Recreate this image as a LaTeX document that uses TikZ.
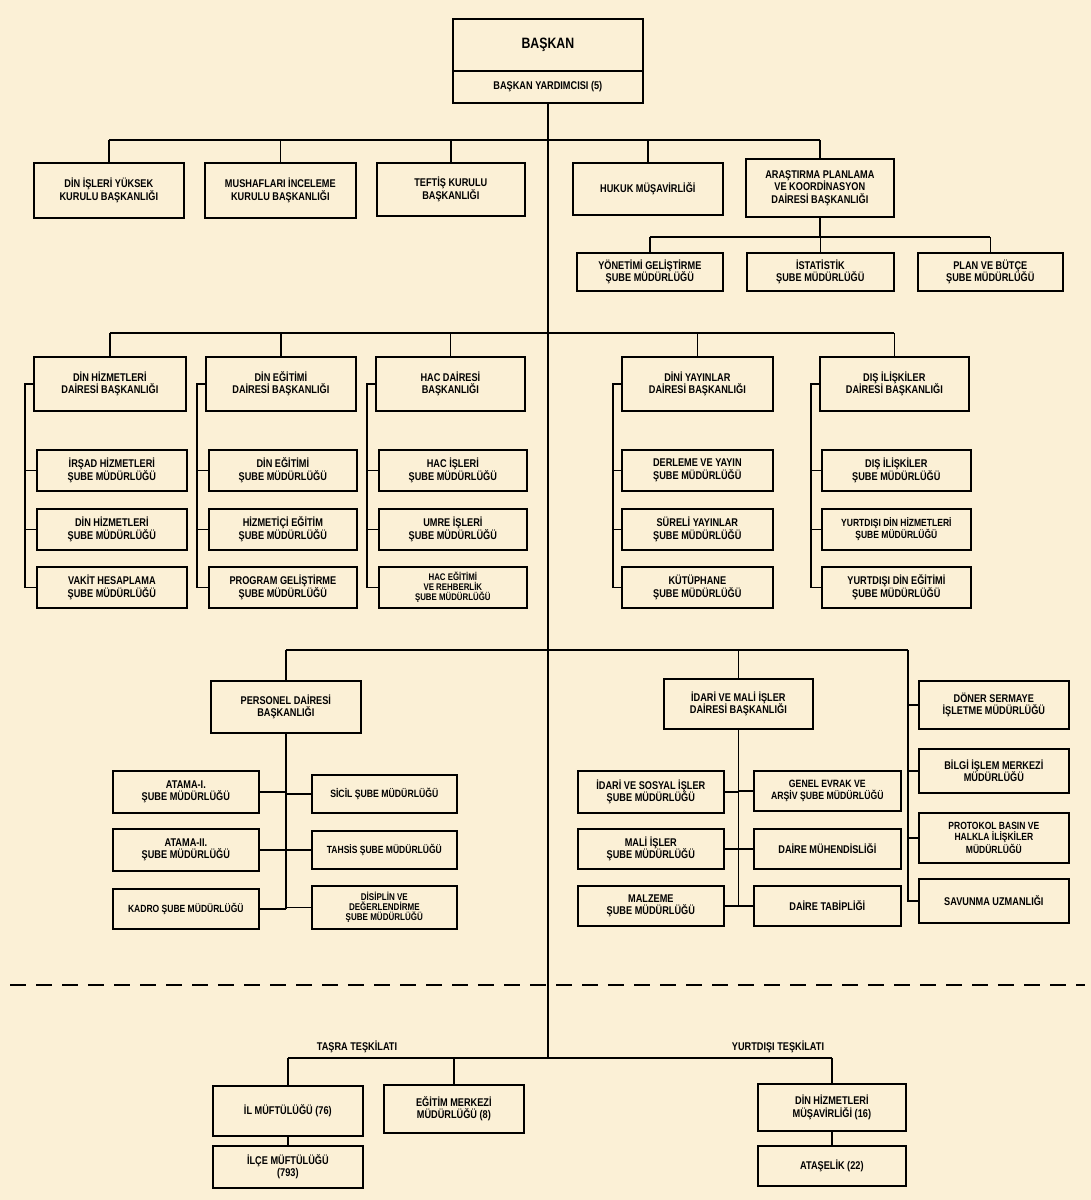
\documentclass[tikz,border=0pt]{standalone}
\usepackage{fontspec}
\setmainfont{Liberation Sans}
\newfontfamily\cnd{Liberation Sans}[FakeStretch=0.82]
\definecolor{bg}{RGB}{251,240,214}
\begin{document}
\begin{tikzpicture}[x=1pt,y=-1pt,
  box/.style={draw, line width=1.7pt, fill=bg, align=center, anchor=north west, inner sep=1pt,
    font=\cnd\bfseries\fontsize{11.2}{12.5}\selectfont},
  ln/.style={line width=1.3pt},
  lbl/.style={font=\cnd\bfseries\fontsize{11.2}{12.5}\selectfont}]
\fill[bg] (0,0) rectangle (1091,1200);
\useasboundingbox (0,0) rectangle (1091,1200);
\coordinate (r1) at (0,140);
\coordinate (r1b) at (0,237);
\coordinate (r2) at (0,333);
\coordinate (r3) at (0,650);
\coordinate (r4) at (0,1058);
\node[box, minimum width=190, minimum height=52, font=\cnd\bfseries\fontsize{15}{17}\selectfont] (bas) at (452,18) {BAŞKAN};
\node[box, minimum width=190, minimum height=32] (by) at (452,70) {BAŞKAN YARDIMCISI (5)};
\coordinate (mainend) at (by.south |- r4);
\node[box, minimum width=150, minimum height=55] (a1) at (33,162) {DİN İŞLERİ YÜKSEK\\KURULU BAŞKANLIĞI};
\node[box, minimum width=151, minimum height=55] (a2) at (204,162) {MUSHAFLARI İNCELEME\\KURULU BAŞKANLIĞI};
\node[box, minimum width=148, minimum height=53] (a3) at (376,162) {TEFTİŞ KURULU\\BAŞKANLIĞI};
\node[box, minimum width=150, minimum height=52] (a4) at (572,162) {HUKUK MÜŞAVİRLİĞİ};
\node[box, minimum width=148, minimum height=58] (a5) at (745,158) {ARAŞTIRMA PLANLAMA\\VE KOORDİNASYON\\DAİRESİ BAŞKANLIĞI};
\node[box, minimum width=146, minimum height=38] (b1) at (576,252) {YÖNETİMİ GELİŞTİRME\\ŞUBE MÜDÜRLÜĞÜ};
\node[box, minimum width=147, minimum height=38] (b2) at (746,252) {İSTATİSTİK\\ŞUBE MÜDÜRLÜĞÜ};
\node[box, minimum width=145, minimum height=38] (b3) at (917,252) {PLAN VE BÜTÇE\\ŞUBE MÜDÜRLÜĞÜ};
\node[box, minimum width=152, minimum height=54] (h1) at (33,356) {DİN HİZMETLERİ\\DAİRESİ BAŞKANLIĞI};
\node[box, minimum width=150, minimum height=54] (h2) at (205,356) {DİN EĞİTİMİ\\DAİRESİ BAŞKANLIĞI};
\node[box, minimum width=149, minimum height=54] (h3) at (375,356) {HAC DAİRESİ\\BAŞKANLIĞI};
\node[box, minimum width=151, minimum height=54] (h4) at (621,356) {DİNİ YAYINLAR\\DAİRESİ BAŞKANLIĞI};
\node[box, minimum width=149, minimum height=54] (h5) at (819,356) {DIŞ İLİŞKİLER\\DAİRESİ BAŞKANLIĞI};
\node[box, minimum width=150, minimum height=41] (s11) at (36,449) {İRŞAD HİZMETLERİ\\ŞUBE MÜDÜRLÜĞÜ};
\node[box, minimum width=150, minimum height=41] (s12) at (36,508) {DİN HİZMETLERİ\\ŞUBE MÜDÜRLÜĞÜ};
\node[box, minimum width=150, minimum height=41] (s13) at (36,566) {VAKİT HESAPLAMA\\ŞUBE MÜDÜRLÜĞÜ};
\node[box, minimum width=148, minimum height=41] (s21) at (208,449) {DİN EĞİTİMİ\\ŞUBE MÜDÜRLÜĞÜ};
\node[box, minimum width=148, minimum height=41] (s22) at (208,508) {HİZMETİÇİ EĞİTİM\\ŞUBE MÜDÜRLÜĞÜ};
\node[box, minimum width=148, minimum height=41] (s23) at (208,566) {PROGRAM GELİŞTİRME\\ŞUBE MÜDÜRLÜĞÜ};
\node[box, minimum width=148, minimum height=41] (s31) at (378,449) {HAC İŞLERİ\\ŞUBE MÜDÜRLÜĞÜ};
\node[box, minimum width=148, minimum height=41] (s32) at (378,508) {UMRE İŞLERİ\\ŞUBE MÜDÜRLÜĞÜ};
\node[box, minimum width=148, minimum height=41, font=\cnd\bfseries\fontsize{9.6}{10}\selectfont] (s33) at (378,566) {HAC EĞİTİMİ\\VE REHBERLİK\\ŞUBE MÜDÜRLÜĞÜ};
\node[box, minimum width=151, minimum height=41] (s41) at (621,449) {DERLEME VE YAYIN\\ŞUBE MÜDÜRLÜĞÜ};
\node[box, minimum width=151, minimum height=41] (s42) at (621,508) {SÜRELİ YAYINLAR\\ŞUBE MÜDÜRLÜĞÜ};
\node[box, minimum width=151, minimum height=41] (s43) at (621,566) {KÜTÜPHANE\\ŞUBE MÜDÜRLÜĞÜ};
\node[box, minimum width=149, minimum height=41] (s51) at (821,449) {DIŞ İLİŞKİLER\\ŞUBE MÜDÜRLÜĞÜ};
\node[box, minimum width=149, minimum height=41, font=\cnd\bfseries\fontsize{10.4}{12.5}\selectfont] (s52) at (821,508) {YURTDIŞI DİN HİZMETLERİ\\ŞUBE MÜDÜRLÜĞÜ};
\node[box, minimum width=149, minimum height=41] (s53) at (821,566) {YURTDIŞI DİN EĞİTİMİ\\ŞUBE MÜDÜRLÜĞÜ};
\node[box, minimum width=150, minimum height=52] (p) at (210,680) {PERSONEL DAİRESİ\\BAŞKANLIĞI};
\node[box, minimum width=146, minimum height=42] (pl1) at (112,770) {ATAMA-I.\\ŞUBE MÜDÜRLÜĞÜ};
\node[box, minimum width=146, minimum height=42] (pl2) at (112,828) {ATAMA-II.\\ŞUBE MÜDÜRLÜĞÜ};
\node[box, minimum width=146, minimum height=40, font=\cnd\bfseries\fontsize{10.4}{12}\selectfont] (pl3) at (112,888) {KADRO ŞUBE MÜDÜRLÜĞÜ};
\node[box, minimum width=145, minimum height=38, font=\cnd\bfseries\fontsize{10.6}{12}\selectfont] (pr1) at (311,774) {SİCİL ŞUBE MÜDÜRLÜĞÜ};
\node[box, minimum width=145, minimum height=38, font=\cnd\bfseries\fontsize{10.4}{12}\selectfont] (pr2) at (311,830) {TAHSİS ŞUBE MÜDÜRLÜĞÜ};
\node[box, minimum width=145, minimum height=43, font=\cnd\bfseries\fontsize{9.8}{10.2}\selectfont] (pr3) at (311,885) {DİSİPLİN VE\\DEĞERLENDİRME\\ŞUBE MÜDÜRLÜĞÜ};
\node[box, minimum width=149, minimum height=50] (im) at (663,678) {İDARİ VE MALİ İŞLER\\DAİRESİ BAŞKANLIĞI};
\node[box, minimum width=146, minimum height=42] (il1) at (577,770) {İDARİ VE SOSYAL İŞLER\\ŞUBE MÜDÜRLÜĞÜ};
\node[box, minimum width=146, minimum height=40] (il2) at (577,828) {MALİ İŞLER\\ŞUBE MÜDÜRLÜĞÜ};
\node[box, minimum width=146, minimum height=40] (il3) at (577,885) {MALZEME\\ŞUBE MÜDÜRLÜĞÜ};
\node[box, minimum width=147, minimum height=40, font=\cnd\bfseries\fontsize{10.6}{12.5}\selectfont] (ir1) at (753,770) {GENEL EVRAK VE\\ARŞİV ŞUBE MÜDÜRLÜĞÜ};
\node[box, minimum width=147, minimum height=40] (ir2) at (753,828) {DAİRE MÜHENDİSLİĞİ};
\node[box, minimum width=147, minimum height=40] (ir3) at (753,885) {DAİRE TABİPLİĞİ};
\node[box, minimum width=150, minimum height=48] (c1) at (918,680) {DÖNER SERMAYE\\İŞLETME MÜDÜRLÜĞÜ};
\node[box, minimum width=150, minimum height=44] (c2) at (918,748) {BİLGİ İŞLEM MERKEZİ\\MÜDÜRLÜĞÜ};
\node[box, minimum width=150, minimum height=50, font=\cnd\bfseries\fontsize{10.4}{11}\selectfont] (c3) at (918,812) {PROTOKOL BASIN VE\\HALKLA İLİŞKİLER\\MÜDÜRLÜĞÜ};
\node[box, minimum width=150, minimum height=44] (c4) at (918,878) {SAVUNMA UZMANLIĞI};
\node[box, minimum width=150, minimum height=50] (t1) at (212,1085) {İL MÜFTÜLÜĞÜ (76)};
\node[box, minimum width=150, minimum height=42] (t2) at (212,1145) {İLÇE MÜFTÜLÜĞÜ\\(793)};
\node[box, minimum width=140, minimum height=48] (t3) at (383,1084) {EĞİTİM MERKEZİ\\MÜDÜRLÜĞÜ (8)};
\node[box, minimum width=148, minimum height=47] (y1) at (757,1083) {DİN HİZMETLERİ\\MÜŞAVİRLİĞİ (16)};
\node[box, minimum width=148, minimum height=40] (y2) at (757,1145) {ATAŞELİK (22)};
\node[lbl, anchor=south] (lt) at (357,1056) {TAŞRA TEŞKİLATI};
\node[lbl, anchor=south] (ly) at (778,1056) {YURTDIŞI TEŞKİLATI};
\coordinate (dl) at (10,985);
\coordinate (dr) at (1085,985);
\draw[line width=1.5pt, dash pattern=on 16pt off 10pt] (dl) -- (dr);
\draw[ln] (by.south) -- (mainend);
\draw[ln] (a1.north |- r1) -- (a5.north |- r1);
\foreach \n in {a1,a2,a3,a4,a5} \draw[ln] (\n.north) -- (\n.north |- r1);
\draw[ln] (a5.south) -- (a5.south |- r1b);
\draw[ln] (b1.north |- r1b) -- (b3.north |- r1b);
\foreach \n in {b1,b2,b3} \draw[ln] (\n.north) -- (\n.north |- r1b);
\draw[ln] (h1.north |- r2) -- (h5.north |- r2);
\foreach \n in {h1,h2,h3,h4,h5} \draw[ln] (\n.north) -- (\n.north |- r2);
\foreach \h/\a/\b/\c in {h1/s11/s12/s13,h2/s21/s22/s23,h3/s31/s32/s33,h4/s41/s42/s43,h5/s51/s52/s53}{
  \coordinate (sp\h) at ([xshift=-8pt]\h.west);
  \draw[ln] (\h.west) -- (sp\h) |- (\c.west);
  \draw[ln] (\a.west) -- (\a.west -| sp\h);
  \draw[ln] (\b.west) -- (\b.west -| sp\h);
}
\coordinate (cs) at (908,650);
\draw[ln] (p.north |- r3) -- (cs);
\draw[ln] (p.north) -- (p.north |- r3);
\draw[ln] (im.north) -- (im.north |- r3);
\draw[ln] (cs) |- (c4.west);
\foreach \n in {c1,c2,c3} \draw[ln] (\n.west) -- (\n.west -| cs);
\draw[ln] (p.south) -- (p.south |- pl3.east);
\foreach \n in {pl1,pl2,pl3} \draw[ln] (\n.east) -- (\n.east -| p.south);
\foreach \n in {pr1,pr2,pr3} \draw[ln] (\n.west) -- (\n.west -| p.south);
\draw[ln] (im.south) -- (im.south |- il3.east);
\foreach \n in {il1,il2,il3} \draw[ln] (\n.east) -- (\n.east -| im.south);
\foreach \n in {ir1,ir2,ir3} \draw[ln] (\n.west) -- (\n.west -| im.south);
\draw[ln] (t1.north |- r4) -- (y1.north |- r4);
\draw[ln] (t1.north) -- (t1.north |- r4);
\draw[ln] (t3.north) -- (t3.north |- r4);
\draw[ln] (y1.north) -- (y1.north |- r4);
\draw[ln] (t1.south) -- (t2.north);
\draw[ln] (y1.south) -- (y2.north);
\end{tikzpicture}
\end{document}
